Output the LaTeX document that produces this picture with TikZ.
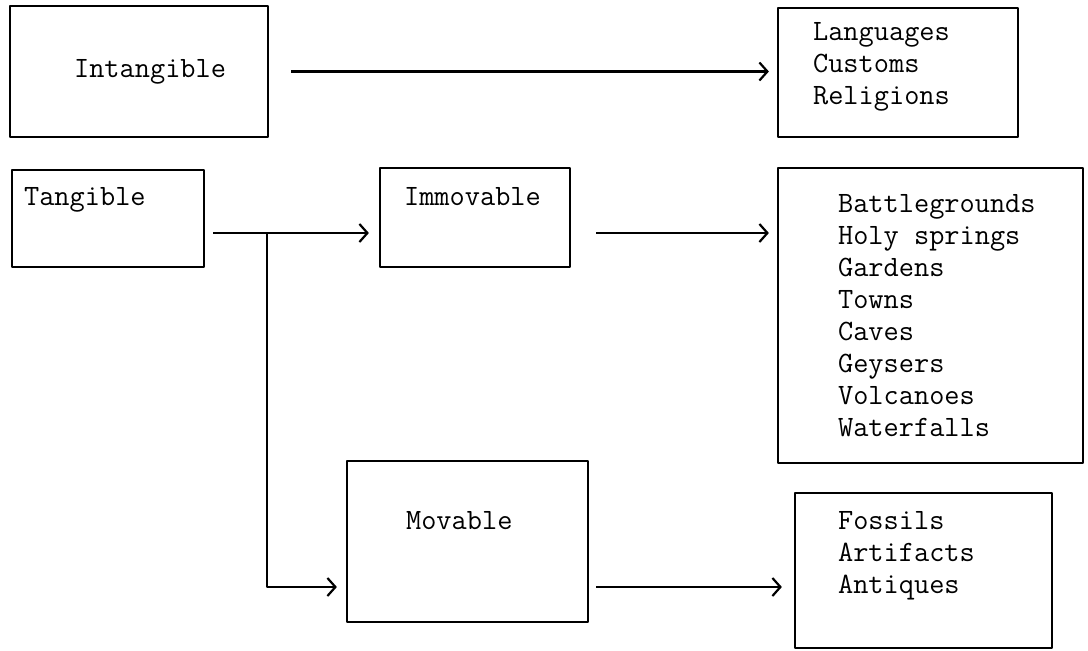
\documentclass[tikz,border=0pt]{standalone}
\usetikzlibrary{arrows.meta}
\tikzset{fig/.style={x=1pt,y=-1pt,line width=2.2pt,line join=round,>={Straight Barb[length=8pt,width=18pt]}},
  box/.style 2 args={draw,minimum width=#1pt,minimum height=#2pt,inner sep=0pt},
  txt/.style={anchor=north west,inner sep=0pt,align=left,font=\fontsize{29.5}{32}\selectfont\ttfamily}}

\begin{document}
\begin{tikzpicture}[fig]
  \useasboundingbox (0,0) rectangle (1088,651);
  % boxes
  \node[box={258}{131}] (intang) at (139,71.5) {};
  \node[box={240}{129}] (lang) at (898,72.5) {};
  \node[box={192}{97}] (tang) at (108,218.5) {};
  \node[box={190}{99}] (immov) at (475,217.5) {};
  \node[box={305}{295}] (sites) at (930.5,315.5) {};
  \node[box={241}{161}] (mov) at (467.5,541.5) {};
  \node[box={257}{155}] (finds) at (923.5,570.5) {};
  % labels
  \node[txt] (intangT) at (73,58) {Intangible};
  \node[txt] (langT) at (812,21) {Languages\\Customs\\Religions};
  \node[txt] (tangT) at (23,186) {Tangible};
  \node[txt] (immovT) at (403,186) {Immovable};
  \node[txt] (sitesT) at (837,193) {Battlegrounds\\Holy springs\\Gardens\\Towns\\Caves\\Geysers\\Volcanoes\\Waterfalls};
  \node[txt] (movT) at (405,510) {Movable};
  \node[txt] (findsT) at (837,510) {Fossils\\Artifacts\\Antiques};
  % connectors
  \coordinate (split) at (267,233);
  \coordinate (bend) at (267,587);
  \draw[->] ([xshift=22pt]intang.east) -- ([xshift=-8pt]intang.east -| lang.west);
  \draw[->] ([xshift=8pt]tang.east |- split) -- ([xshift=-10pt]immov.west |- split);
  \draw[->] (split) -- (bend) -- ([xshift=-9pt]mov.west |- bend);
  \draw[->] ([xshift=25pt]immov.east |- split) -- ([xshift=-8pt]sites.west |- split);
  \draw[->] ([xshift=7pt]mov.east |- bend) -- ([xshift=-12pt]finds.west |- bend);
\end{tikzpicture}
\end{document}
